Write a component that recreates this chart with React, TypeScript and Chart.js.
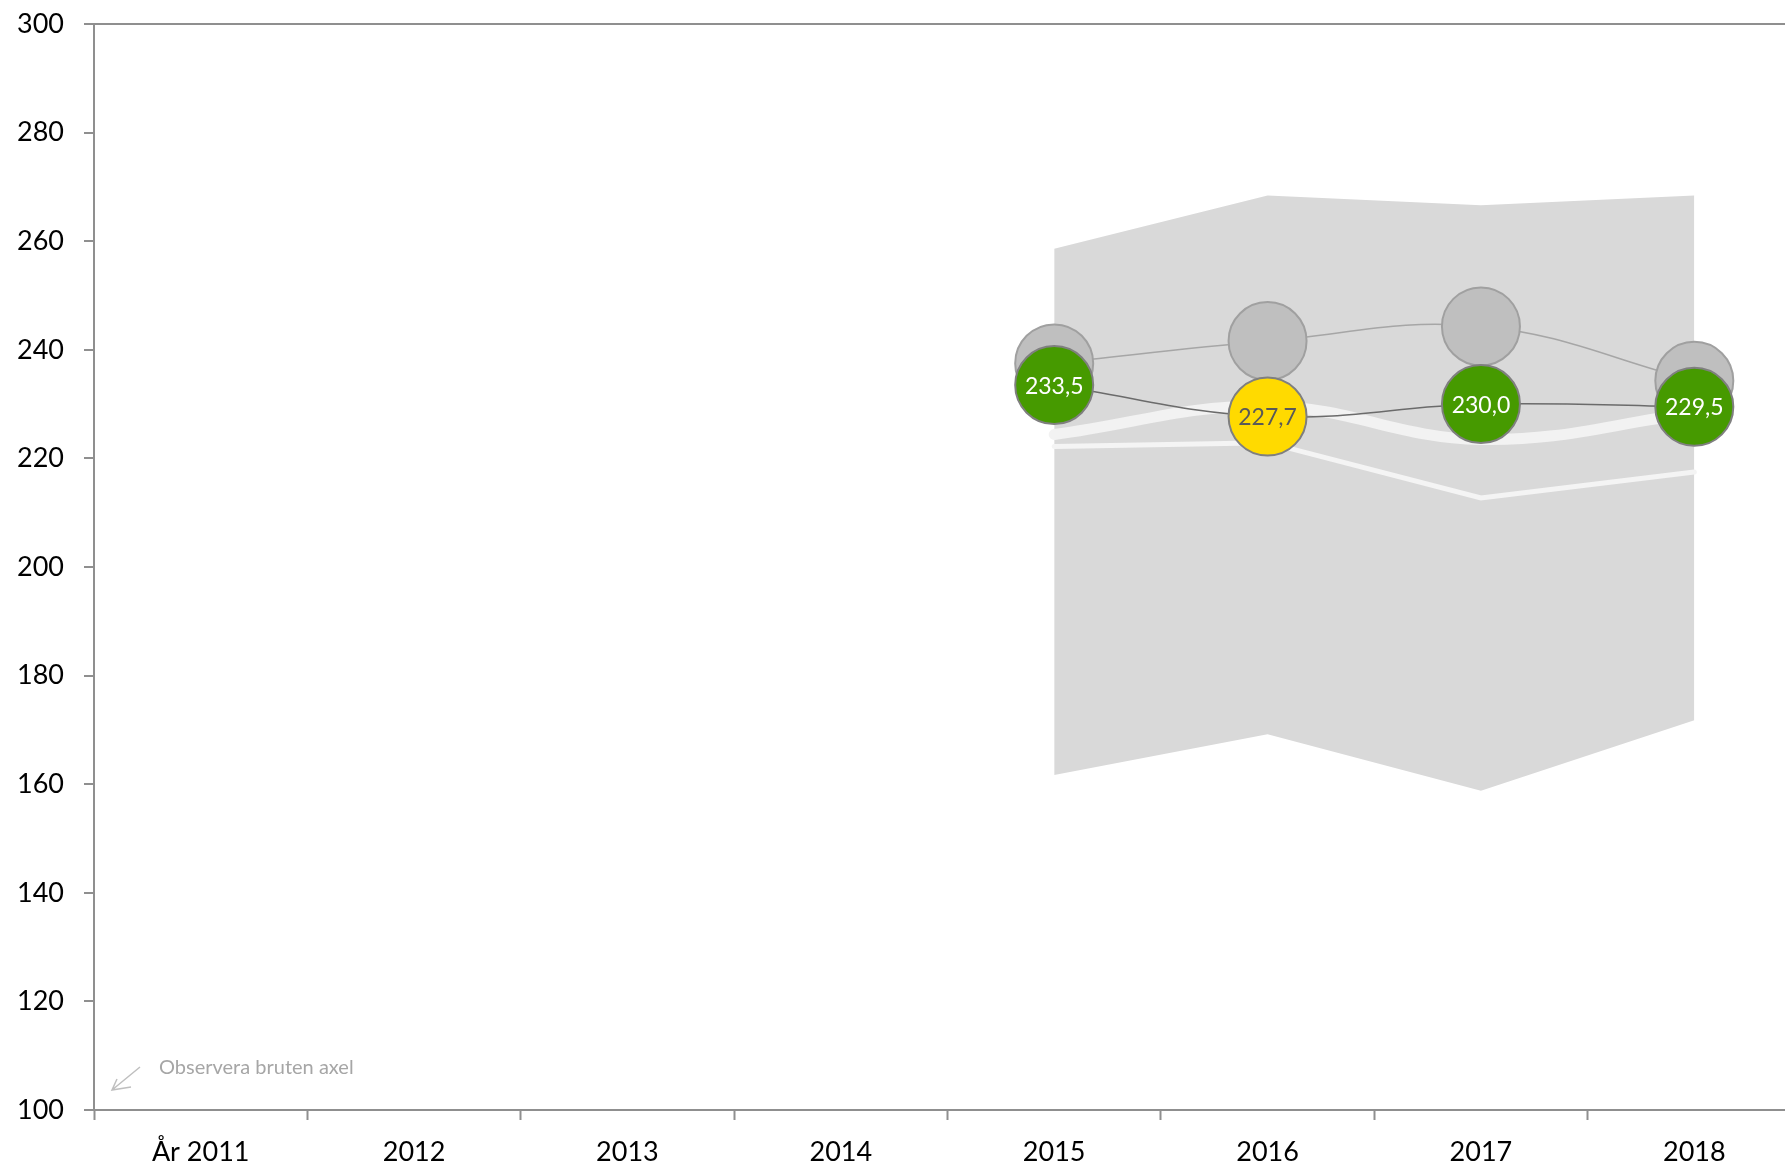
import React, { useEffect, useRef } from 'react';
import { Chart, registerables } from 'chart.js';

Chart.register(...registerables);

const categories = ['År 2011', '2012', '2013', '2014', '2015', '2016', '2017', '2018'];
const yTicks = [100, 120, 140, 160, 180, 200, 220, 240, 260, 280, 300];
const mainValues = [null, null, null, null, 233.5, 227.7, 230.0, 229.5];
const mainColors = ['#469a00', '#469a00', '#469a00', '#469a00', '#469a00', '#ffda00', '#469a00', '#469a00'];
const mainTextColors = ['#ffffff', '#ffffff', '#ffffff', '#ffffff', '#ffffff', '#595959', '#ffffff', '#ffffff'];
const compareValues = [null, null, null, null, 237.5, 241.6, 244.3, 234.3];
const bandLower = [null, null, null, null, 161.7, 169.2, 158.8, 171.8];
const bandUpper = [null, null, null, null, 258.6, 268.4, 266.6, 268.4];
const refThick = [null, null, null, null, 224.4, 229.6, 223.5, 228.3];
const refThin = [null, null, null, null, 222.2, 222.9, 212.7, 217.5];
const noteText = 'Observera bruten axel';

const AXIS = '#8f8f8f';
const FONT = 'Lato';

const labelPlugin = {
  id: 'labelPlugin',
  afterDatasetsDraw(chart: any) {
    const ctx = chart.ctx;
    const meta = chart.getDatasetMeta(0);
    ctx.save();
    ctx.font = `23px ${FONT}`;
    ctx.textAlign = 'center';
    ctx.textBaseline = 'middle';
    meta.data.forEach((pt: any, i: number) => {
      const v = mainValues[i];
      if (v == null) return;
      ctx.fillStyle = mainTextColors[i];
      ctx.fillText(v.toFixed(1).replace('.', ','), pt.x, pt.y + 1);
    });
    ctx.restore();
  },
  afterDraw(chart: any) {
    const ctx = chart.ctx;
    ctx.save();
    ctx.fillStyle = '#a6a6a6';
    ctx.font = `20px ${FONT}`;
    ctx.textAlign = 'left';
    ctx.textBaseline = 'middle';
    ctx.fillText(noteText, 159, 1068);
    ctx.strokeStyle = '#bfbfbf';
    ctx.lineWidth = 1.5;
    ctx.beginPath();
    ctx.moveTo(140, 1067);
    ctx.lineTo(112, 1090);
    ctx.moveTo(131, 1087);
    ctx.lineTo(112, 1090);
    ctx.lineTo(117, 1079);
    ctx.stroke();
    ctx.restore();
  },
};

export default function App() {
  const ref = useRef<HTMLCanvasElement | null>(null);

  useEffect(() => {
    if (!ref.current) return;
    const chart = new Chart(ref.current, {
      type: 'line',
      data: {
        labels: categories,
        datasets: [
          {
            label: 'Värde',
            data: mainValues,
            order: 0,
            borderColor: '#6b6b6b',
            borderWidth: 1.5,
            tension: 0.4,
            pointRadius: 39,
            pointBackgroundColor: mainColors,
            pointBorderColor: '#7f7f7f',
            pointBorderWidth: 2,
            fill: false,
          },
          {
            label: 'Jämförelse',
            data: compareValues,
            order: 1,
            borderColor: '#a6a6a6',
            borderWidth: 1.5,
            tension: 0.4,
            pointRadius: 39,
            pointBackgroundColor: '#bfbfbf',
            pointBorderColor: '#a0a0a0',
            pointBorderWidth: 2,
            fill: false,
          },
          {
            label: 'Ref1',
            data: refThick,
            order: 2,
            borderColor: '#f2f2f2',
            borderWidth: 11,
            borderCapStyle: 'round',
            tension: 0.4,
            pointRadius: 0,
            fill: false,
          },
          {
            label: 'Ref2',
            data: refThin,
            order: 3,
            borderColor: '#f4f4f4',
            borderWidth: 5,
            borderCapStyle: 'round',
            tension: 0,
            pointRadius: 0,
            fill: false,
          },
          {
            label: 'Övre',
            data: bandUpper,
            order: 4,
            borderColor: 'rgba(0,0,0,0)',
            borderWidth: 0,
            backgroundColor: '#d9d9d9',
            tension: 0,
            pointRadius: 0,
            fill: '+1',
          },
          {
            label: 'Nedre',
            data: bandLower,
            order: 5,
            borderColor: 'rgba(0,0,0,0)',
            borderWidth: 0,
            tension: 0,
            pointRadius: 0,
            fill: false,
          },
        ],
      } as any,
      options: {
        responsive: false,
        animation: false,
        devicePixelRatio: 1,
        layout: { autoPadding: false, padding: { top: 24, left: 0, right: 0, bottom: 0 } },
        plugins: {
          legend: { display: false },
          tooltip: { enabled: false },
          title: { display: false },
        },
        scales: {
          x: {
            type: 'category',
            offset: true,
            afterFit: (s: any) => {
              s.height = 53;
              s.paddingLeft = 0;
              s.paddingRight = 0;
              s.paddingTop = 0;
              s.paddingBottom = 0;
            },
            grid: {
              offset: true,
              drawOnChartArea: false,
              tickLength: 10,
              tickColor: AXIS,
              tickWidth: 2,
            },
            border: { display: true, color: AXIS, width: 2 },
            ticks: {
              color: '#000000',
              font: { family: FONT, size: 27 },
              padding: 16,
              maxRotation: 0,
              autoSkip: false,
            },
          },
          y: {
            type: 'linear',
            min: 100,
            max: 300,
            afterFit: (s: any) => {
              s.width = 94;
              s.paddingLeft = 0;
              s.paddingRight = 0;
              s.paddingTop = 0;
              s.paddingBottom = 0;
            },
            afterBuildTicks: (s: any) => {
              s.ticks = yTicks.map((v) => ({ value: v }));
            },
            grid: {
              drawOnChartArea: true,
              color: (c: any) => (c.tick && c.tick.value === 300 ? AXIS : 'rgba(0,0,0,0)'),
              lineWidth: 2,
              tickLength: 10,
              tickColor: AXIS,
              tickWidth: 2,
            },
            border: { display: true, color: AXIS, width: 2 },
            ticks: {
              color: '#000000',
              font: { family: FONT, size: 27 },
              padding: 20,
            },
          },
        },
      } as any,
      plugins: [labelPlugin],
    });
    return () => chart.destroy();
  }, []);

  return (
    <div
      style={{
        position: 'fixed',
        left: 0,
        top: 0,
        width: 1785,
        height: 1163,
        overflow: 'hidden',
        background: '#ffffff',
      }}
    >
      <canvas ref={ref} width={1801} height={1163} style={{ display: 'block' }} />
    </div>
  );
}
